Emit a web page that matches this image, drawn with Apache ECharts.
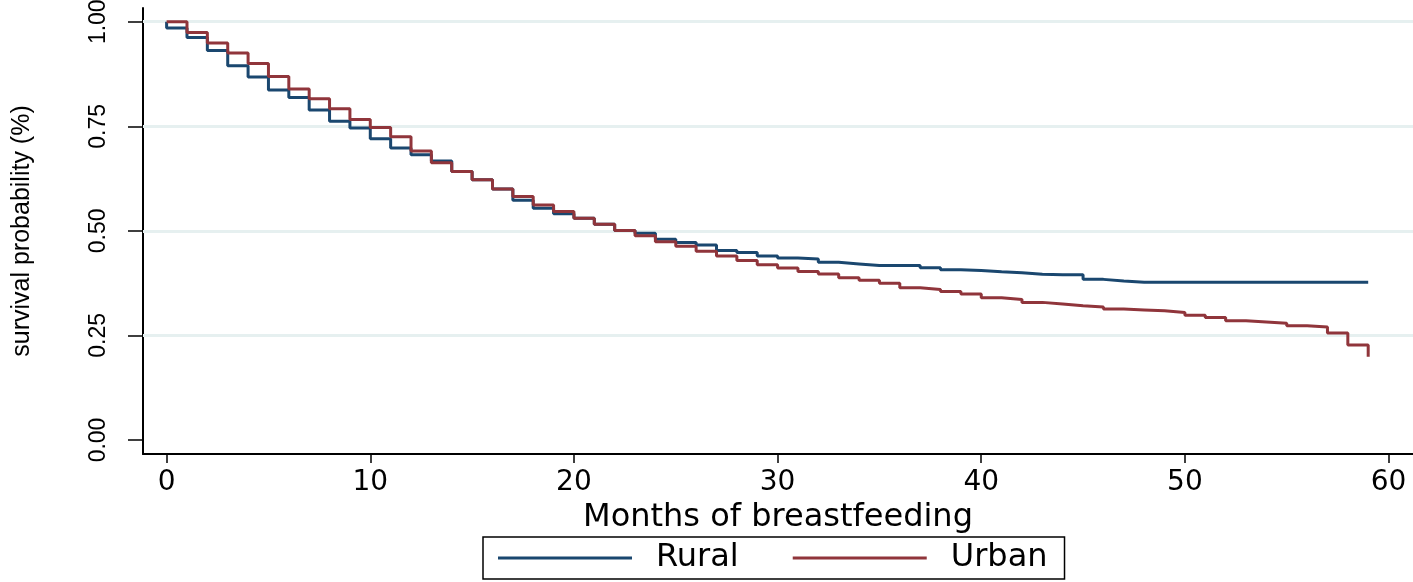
<!DOCTYPE html>
<html>
<head>
<meta charset="utf-8">
<script src="https://cdn.jsdelivr.net/npm/echarts@6/dist/echarts.min.js"></script>
<style>
html,body{margin:0;padding:0;background:#fff;}
#chart{width:1413px;height:582px;}
</style>
</head>
<body>
<div id="chart"></div>
<script>
// ---- data ----
const months = [0,1,2,3,4,5,6,7,8,9,10,11,12,13,14,15,16,17,18,19,20,21,22,23,24,25,26,27,28,29,30,31,32,33,34,35,36,37,38,39,40,41,42,43,44,45,46,47,48,49,50,51,52,53,54,55,56,57,58,59];
const startSurvival = 1.0;
const rural = [0.985,0.962,0.931,0.895,0.868,0.837,0.819,0.789,0.762,0.746,
               0.720,0.698,0.682,0.667,0.642,0.622,0.600,0.573,0.554,0.541,
               0.530,0.516,0.501,0.494,0.480,0.472,0.466,0.453,0.448,0.440,
               0.435,0.433,0.425,0.421,0.417,0.417,0.417,0.412,0.407,0.405,
               0.402,0.400,0.396,0.395,0.395,0.384,0.380,0.377,0.377,0.377,
               0.377,0.377,0.377,0.377,0.377,0.377,0.377,0.377,0.377,0.377];
const urban = [1.000,0.974,0.949,0.925,0.900,0.869,0.839,0.816,0.792,0.766,
               0.747,0.725,0.691,0.663,0.642,0.622,0.600,0.582,0.562,0.546,
               0.530,0.516,0.501,0.488,0.474,0.463,0.451,0.440,0.429,0.419,
               0.411,0.403,0.397,0.388,0.382,0.375,0.364,0.360,0.355,0.349,
               0.340,0.336,0.329,0.325,0.321,0.318,0.313,0.311,0.309,0.305,
               0.298,0.293,0.285,0.282,0.279,0.273,0.270,0.256,0.227,0.199];
const xTicks = [0,10,20,30,40,50,60];
const yTicks = [0,0.25,0.5,0.75,1];
const gridLines = [0.25,0.5,0.75,1];
const seriesNames = ['Rural','Urban'];
const xTitle = 'Months of breastfeeding';
const yTitle = 'survival probability (%)';

// ---- chart ----
const narrow = '"Liberation Sans Narrow", "Liberation Sans", Arial, sans-serif';
const wide = '"DejaVu Sans", sans-serif';
const toPts = arr => [[0, startSurvival]].concat(months.map((m,i)=>[m, arr[i]]));

const chart = echarts.init(document.getElementById('chart'), null, {renderer:'canvas'});
chart.setOption({
  backgroundColor:'#ffffff',
  animation:false,
  grid:{left:143, right:0, top:8, bottom:128, containLabel:false, outerBoundsMode:'none'},
  xAxis:{
    type:'value', min:-1.16, max:61.2,
    name:xTitle, nameLocation:'middle', nameGap:38,
    nameTextStyle:{fontFamily:wide, fontSize:32, color:'#000', verticalAlign:'top'},
    axisLine:{show:true, onZero:false, lineStyle:{color:'#000', width:2}},
    axisTick:{show:true, length:9, customValues:xTicks, lineStyle:{color:'#000', width:1.5}},
    axisLabel:{customValues:xTicks, margin:15, fontFamily:wide, fontSize:28, color:'#000'},
    splitLine:{show:false}
  },
  yAxis:{
    type:'value', min:-0.0335, max:1.0328,
    name:yTitle, nameLocation:'middle', nameGap:108, nameRotate:90,
    nameTextStyle:{fontFamily:narrow, fontSize:25, color:'#000'},
    axisLine:{show:true, onZero:false, lineStyle:{color:'#000', width:2}},
    axisTick:{show:true, length:15, customValues:yTicks, lineStyle:{color:'#000', width:1.5}},
    axisLabel:{customValues:yTicks, rotate:90, margin:33, fontFamily:narrow, fontSize:23, color:'#000',
      formatter:v=>v.toFixed(2)},
    splitLine:{show:false}
  },
  legend:{
    left:483, top:537,
    data:seriesNames,
    icon:'rect', itemWidth:134, itemHeight:3, itemGap:54,
    padding:[5,17,5,15],
    borderColor:'#000', borderWidth:1.5, borderRadius:0,
    textStyle:{fontFamily:wide, fontSize:32, color:'#000', padding:[0,0,0,19]}
  },
  series:[
    {
      name:'grid', type:'line', data:[], silent:true, z:1,
      markLine:{silent:true, z:1, symbol:'none', label:{show:false},
        lineStyle:{color:'#e6f0f0', width:3, type:'solid'},
        data:gridLines.map(v=>({yAxis:v}))}
    },
    {
      name:seriesNames[0], type:'line', step:'end', showSymbol:false, z:3,
      color:'#1a476f', lineStyle:{color:'#1a476f', width:3},
      data:toPts(rural)
    },
    {
      name:seriesNames[1], type:'line', step:'end', showSymbol:false, z:4,
      color:'#90353b', lineStyle:{color:'#90353b', width:3},
      data:toPts(urban)
    }
  ]
});
</script>
</body>
</html>
